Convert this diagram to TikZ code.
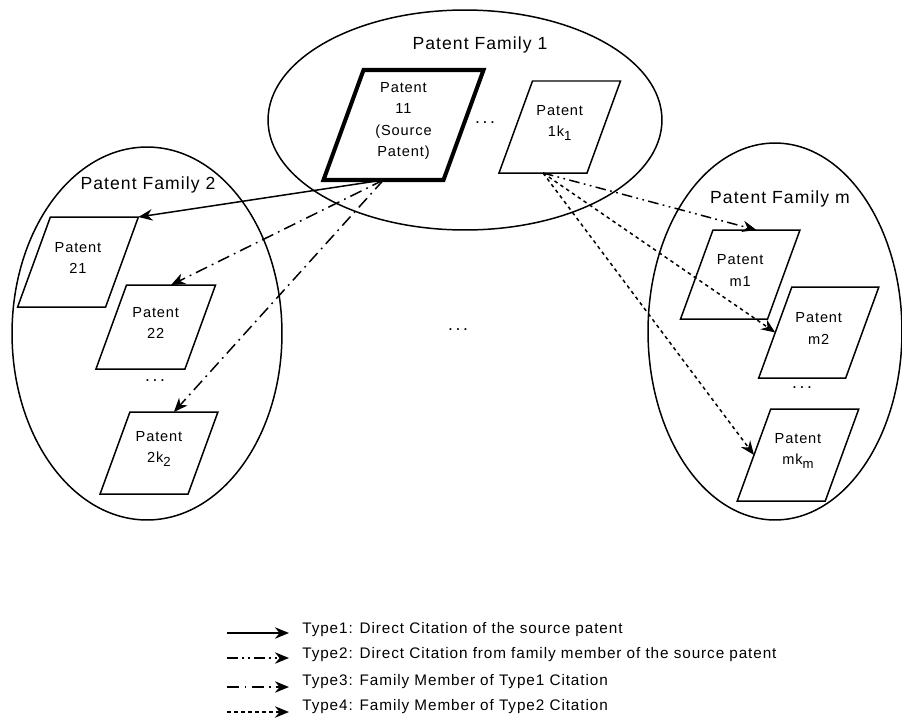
\documentclass[tikz,border=0pt]{standalone}
\usepackage{fontspec}
\setmainfont{Liberation Sans}[LetterSpace=6]
\usetikzlibrary{shapes.geometric,arrows.meta,positioning}
\newcommand{\lowidx}[1]{\raisebox{-0.5ex}{\fontsize{7.5}{7.5}\selectfont #1}}
\newcommand{\spdots}{.\kern1.5pt.\kern1.5pt.}

\begin{document}
\begin{tikzpicture}[
    x=0.02cm,y=-0.02cm,
    ptext/.style={align=center,inner sep=0pt,font=\fontsize{8.3}{12}\selectfont},
    pedge/.style={line join=miter},
    fam/.style={ellipse,draw,line width=0.85pt,inner sep=0pt,outer sep=0pt},
    famlabel/.style={font=\fontsize{10}{12}\selectfont},
    legtext/.style={anchor=west,font=\fontsize{8.7}{10}\selectfont,inner sep=0pt},
    carr/.style={-{Stealth[length=8pt,width=6.5pt]},line width=0.85pt},
    tone/.style={carr},
    ttwo/.style={carr,dash pattern=on 6pt off 2.5pt on 1pt off 2.5pt on 1pt off 2.5pt},
    tthree/.style={carr,dash pattern=on 7pt off 3pt on 1pt off 3pt},
    tfour/.style={carr,dash pattern=on 2pt off 2pt}
    ]
    \useasboundingbox (0,0) rectangle (902,717);

    \node[fam,minimum width=7.88cm,minimum height=4.4cm] (fam1) at (465,120) {};
    \node[fam,minimum width=5.4cm,minimum height=7.46cm] (fam2) at (147,333.5) {};
    \node[fam,minimum width=5.08cm,minimum height=7.54cm] (famm) at (775,331.5) {};
    \node[famlabel] (fam1lbl) at (480,45) {Patent Family 1};
    \node[famlabel] (fam2lbl) at (148,185) {Patent Family 2};
    \node[famlabel] (fammlbl) at (780,199) {Patent Family m};

    \foreach \nm/\cx/\cy/\w/\h/\lw/\txt in {
        src/403.5/125/120/110/2.3pt/{Patent\\11\\(Source\\Patent)},
        p1k/559.75/127/88/92/0.85pt/{Patent\\1k\lowidx{1}},
        p21/78/262/88/90/0.85pt/{Patent\\21},
        p22/155.75/327/89/84/0.85pt/{Patent\\22},
        p2k/159/453/88/82/0.85pt/{Patent\\2k\lowidx{2}},
        pm1/740.25/274.5/87/89/0.85pt/{Patent\\m1},
        pm2/818.75/332.5/87/91/0.85pt/{Patent\\m2},
        pmk/798/455/88/92/0.85pt/{Patent\\mk\lowidx{m}}}
    {
        \pgfmathsetmacro\sl{\h*0.364}
        \coordinate (\nm-tl) at (\cx-\w/2+\sl/2,\cy-\h/2);
        \coordinate (\nm-tr) at (\cx+\w/2+\sl/2,\cy-\h/2);
        \coordinate (\nm-br) at (\cx+\w/2-\sl/2,\cy+\h/2);
        \coordinate (\nm-bl) at (\cx-\w/2-\sl/2,\cy+\h/2);
        \coordinate (\nm-t) at (\cx+\sl/2,\cy-\h/2);
        \coordinate (\nm-b) at (\cx-\sl/2,\cy+\h/2);
        \coordinate (\nm-l) at (\cx-\w/2,\cy);
        \draw[pedge,line width=\lw] (\nm-tl) -- (\nm-tr) -- (\nm-br) -- (\nm-bl) -- cycle;
        \node[ptext] (\nm) at (\cx,\cy-4) {\txt};
    }

    \node[famlabel] (dots1) at (485,123) {\spdots};
    \node[famlabel] (dots2) at (155,381) {\spdots};
    \node[famlabel] (dotsm) at (802,388) {\spdots};
    \node[famlabel] (dotsc) at (458,330) {\spdots};

    \draw[tone] (src-b) -- (p21-tr);
    \draw[tthree] (src-b) -- (p22-t);
    \draw[tthree] (src-b) -- (p2k-t);
    \draw[ttwo] (p1k-b) -- (pm1-t);
    \draw[tfour] (p1k-b) -- (pm2-l);
    \draw[tfour] (p1k-b) -- (pmk-l);

    \foreach \n/\st/\ly/\ty/\txt in {
        1/tone/633/630/{Type1: Direct Citation of the source patent},
        2/ttwo/658/655/{Type2: Direct Citation from family member of the source patent},
        3/tthree/687/682/{Type3: Family Member of Type1 Citation},
        4/tfour/712/707/{Type4: Family Member of Type2 Citation}}
    {
        \coordinate (ls\n) at (227,\ly);
        \coordinate (le\n) at (289,\ly);
        \draw[\st] (ls\n) -- (le\n);
        \node[legtext] (lt\n) at (302,\ty) {\txt};
    }
\end{tikzpicture}
\end{document}
